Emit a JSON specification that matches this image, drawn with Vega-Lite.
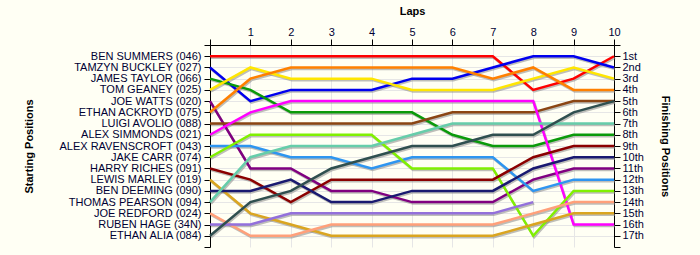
{
  "$schema": "https://vega.github.io/schema/vega-lite/v6.json",
  "width": 404,
  "height": 202,
  "autosize": {"type": "none"},
  "padding": {"left": 210, "top": 45, "right": 86, "bottom": 8},
  "background": "#fffff4",
  "config": {
    "view": {"stroke": null},
    "axis": {
      "labelFont": "Liberation Sans",
      "titleFont": "Liberation Sans",
      "labelFontSize": 11,
      "titleFontSize": 11,
      "titleFontWeight": "bold",
      "labelColor": "#000033",
      "titleColor": "#000000",
      "domainColor": "#000000",
      "tickColor": "#000000",
      "tickSize": 6,
      "gridColor": "#e6e6e6",
      "gridWidth": 1
    }
  },
  "data": {"values": [
    {"driver":"BEN SUMMERS (046)","lap":0,"pos":1},{"driver":"BEN SUMMERS (046)","lap":1,"pos":1},{"driver":"BEN SUMMERS (046)","lap":2,"pos":1},{"driver":"BEN SUMMERS (046)","lap":3,"pos":1},{"driver":"BEN SUMMERS (046)","lap":4,"pos":1},{"driver":"BEN SUMMERS (046)","lap":5,"pos":1},{"driver":"BEN SUMMERS (046)","lap":6,"pos":1},{"driver":"BEN SUMMERS (046)","lap":7,"pos":1},{"driver":"BEN SUMMERS (046)","lap":8,"pos":4},{"driver":"BEN SUMMERS (046)","lap":9,"pos":3},{"driver":"BEN SUMMERS (046)","lap":10,"pos":1},
    {"driver":"TAMZYN BUCKLEY (027)","lap":0,"pos":2},{"driver":"TAMZYN BUCKLEY (027)","lap":1,"pos":5},{"driver":"TAMZYN BUCKLEY (027)","lap":2,"pos":4},{"driver":"TAMZYN BUCKLEY (027)","lap":3,"pos":4},{"driver":"TAMZYN BUCKLEY (027)","lap":4,"pos":4},{"driver":"TAMZYN BUCKLEY (027)","lap":5,"pos":3},{"driver":"TAMZYN BUCKLEY (027)","lap":6,"pos":3},{"driver":"TAMZYN BUCKLEY (027)","lap":7,"pos":2},{"driver":"TAMZYN BUCKLEY (027)","lap":8,"pos":1},{"driver":"TAMZYN BUCKLEY (027)","lap":9,"pos":1},{"driver":"TAMZYN BUCKLEY (027)","lap":10,"pos":2},
    {"driver":"JAMES TAYLOR (066)","lap":0,"pos":3},{"driver":"JAMES TAYLOR (066)","lap":1,"pos":4},{"driver":"JAMES TAYLOR (066)","lap":2,"pos":6},{"driver":"JAMES TAYLOR (066)","lap":3,"pos":6},{"driver":"JAMES TAYLOR (066)","lap":4,"pos":6},{"driver":"JAMES TAYLOR (066)","lap":5,"pos":6},{"driver":"JAMES TAYLOR (066)","lap":6,"pos":8},{"driver":"JAMES TAYLOR (066)","lap":7,"pos":9},{"driver":"JAMES TAYLOR (066)","lap":8,"pos":9},{"driver":"JAMES TAYLOR (066)","lap":9,"pos":8},{"driver":"JAMES TAYLOR (066)","lap":10,"pos":8},
    {"driver":"TOM GEANEY (025)","lap":0,"pos":4},{"driver":"TOM GEANEY (025)","lap":1,"pos":2},{"driver":"TOM GEANEY (025)","lap":2,"pos":3},{"driver":"TOM GEANEY (025)","lap":3,"pos":3},{"driver":"TOM GEANEY (025)","lap":4,"pos":3},{"driver":"TOM GEANEY (025)","lap":5,"pos":4},{"driver":"TOM GEANEY (025)","lap":6,"pos":4},{"driver":"TOM GEANEY (025)","lap":7,"pos":4},{"driver":"TOM GEANEY (025)","lap":8,"pos":3},{"driver":"TOM GEANEY (025)","lap":9,"pos":2},{"driver":"TOM GEANEY (025)","lap":10,"pos":3},
    {"driver":"JOE WATTS (020)","lap":0,"pos":5},{"driver":"JOE WATTS (020)","lap":1,"pos":11},{"driver":"JOE WATTS (020)","lap":2,"pos":11},{"driver":"JOE WATTS (020)","lap":3,"pos":13},{"driver":"JOE WATTS (020)","lap":4,"pos":13},{"driver":"JOE WATTS (020)","lap":5,"pos":14},{"driver":"JOE WATTS (020)","lap":6,"pos":14},{"driver":"JOE WATTS (020)","lap":7,"pos":14},{"driver":"JOE WATTS (020)","lap":8,"pos":12},{"driver":"JOE WATTS (020)","lap":9,"pos":11},{"driver":"JOE WATTS (020)","lap":10,"pos":11},
    {"driver":"ETHAN ACKROYD (075)","lap":0,"pos":6},{"driver":"ETHAN ACKROYD (075)","lap":1,"pos":3},{"driver":"ETHAN ACKROYD (075)","lap":2,"pos":2},{"driver":"ETHAN ACKROYD (075)","lap":3,"pos":2},{"driver":"ETHAN ACKROYD (075)","lap":4,"pos":2},{"driver":"ETHAN ACKROYD (075)","lap":5,"pos":2},{"driver":"ETHAN ACKROYD (075)","lap":6,"pos":2},{"driver":"ETHAN ACKROYD (075)","lap":7,"pos":3},{"driver":"ETHAN ACKROYD (075)","lap":8,"pos":2},{"driver":"ETHAN ACKROYD (075)","lap":9,"pos":4},{"driver":"ETHAN ACKROYD (075)","lap":10,"pos":4},
    {"driver":"LUIGI AVOLIO (088)","lap":0,"pos":7},{"driver":"LUIGI AVOLIO (088)","lap":1,"pos":7},{"driver":"LUIGI AVOLIO (088)","lap":2,"pos":7},{"driver":"LUIGI AVOLIO (088)","lap":3,"pos":7},{"driver":"LUIGI AVOLIO (088)","lap":4,"pos":7},{"driver":"LUIGI AVOLIO (088)","lap":5,"pos":7},{"driver":"LUIGI AVOLIO (088)","lap":6,"pos":6},{"driver":"LUIGI AVOLIO (088)","lap":7,"pos":6},{"driver":"LUIGI AVOLIO (088)","lap":8,"pos":6},{"driver":"LUIGI AVOLIO (088)","lap":9,"pos":5},{"driver":"LUIGI AVOLIO (088)","lap":10,"pos":5},
    {"driver":"ALEX SIMMONDS (021)","lap":0,"pos":8},{"driver":"ALEX SIMMONDS (021)","lap":1,"pos":6},{"driver":"ALEX SIMMONDS (021)","lap":2,"pos":5},{"driver":"ALEX SIMMONDS (021)","lap":3,"pos":5},{"driver":"ALEX SIMMONDS (021)","lap":4,"pos":5},{"driver":"ALEX SIMMONDS (021)","lap":5,"pos":5},{"driver":"ALEX SIMMONDS (021)","lap":6,"pos":5},{"driver":"ALEX SIMMONDS (021)","lap":7,"pos":5},{"driver":"ALEX SIMMONDS (021)","lap":8,"pos":5},{"driver":"ALEX SIMMONDS (021)","lap":9,"pos":16},{"driver":"ALEX SIMMONDS (021)","lap":10,"pos":16},
    {"driver":"ALEX RAVENSCROFT (043)","lap":0,"pos":9},{"driver":"ALEX RAVENSCROFT (043)","lap":1,"pos":9},{"driver":"ALEX RAVENSCROFT (043)","lap":2,"pos":10},{"driver":"ALEX RAVENSCROFT (043)","lap":3,"pos":10},{"driver":"ALEX RAVENSCROFT (043)","lap":4,"pos":11},{"driver":"ALEX RAVENSCROFT (043)","lap":5,"pos":10},{"driver":"ALEX RAVENSCROFT (043)","lap":6,"pos":10},{"driver":"ALEX RAVENSCROFT (043)","lap":7,"pos":10},{"driver":"ALEX RAVENSCROFT (043)","lap":8,"pos":13},{"driver":"ALEX RAVENSCROFT (043)","lap":9,"pos":12},{"driver":"ALEX RAVENSCROFT (043)","lap":10,"pos":12},
    {"driver":"JAKE CARR (074)","lap":0,"pos":10},{"driver":"JAKE CARR (074)","lap":1,"pos":8},{"driver":"JAKE CARR (074)","lap":2,"pos":8},{"driver":"JAKE CARR (074)","lap":3,"pos":8},{"driver":"JAKE CARR (074)","lap":4,"pos":8},{"driver":"JAKE CARR (074)","lap":5,"pos":11},{"driver":"JAKE CARR (074)","lap":6,"pos":11},{"driver":"JAKE CARR (074)","lap":7,"pos":11},{"driver":"JAKE CARR (074)","lap":8,"pos":17},{"driver":"JAKE CARR (074)","lap":9,"pos":13},{"driver":"JAKE CARR (074)","lap":10,"pos":13},
    {"driver":"HARRY RICHES (091)","lap":0,"pos":11},{"driver":"HARRY RICHES (091)","lap":1,"pos":12},{"driver":"HARRY RICHES (091)","lap":2,"pos":14},{"driver":"HARRY RICHES (091)","lap":3,"pos":12},{"driver":"HARRY RICHES (091)","lap":4,"pos":12},{"driver":"HARRY RICHES (091)","lap":5,"pos":12},{"driver":"HARRY RICHES (091)","lap":6,"pos":12},{"driver":"HARRY RICHES (091)","lap":7,"pos":12},{"driver":"HARRY RICHES (091)","lap":8,"pos":10},{"driver":"HARRY RICHES (091)","lap":9,"pos":9},{"driver":"HARRY RICHES (091)","lap":10,"pos":9},
    {"driver":"LEWIS MARLEY (019)","lap":0,"pos":12},{"driver":"LEWIS MARLEY (019)","lap":1,"pos":15},{"driver":"LEWIS MARLEY (019)","lap":2,"pos":16},{"driver":"LEWIS MARLEY (019)","lap":3,"pos":17},{"driver":"LEWIS MARLEY (019)","lap":4,"pos":17},{"driver":"LEWIS MARLEY (019)","lap":5,"pos":17},{"driver":"LEWIS MARLEY (019)","lap":6,"pos":17},{"driver":"LEWIS MARLEY (019)","lap":7,"pos":17},{"driver":"LEWIS MARLEY (019)","lap":8,"pos":16},{"driver":"LEWIS MARLEY (019)","lap":9,"pos":15},{"driver":"LEWIS MARLEY (019)","lap":10,"pos":15},
    {"driver":"BEN DEEMING (090)","lap":0,"pos":13},{"driver":"BEN DEEMING (090)","lap":1,"pos":13},{"driver":"BEN DEEMING (090)","lap":2,"pos":12},{"driver":"BEN DEEMING (090)","lap":3,"pos":14},{"driver":"BEN DEEMING (090)","lap":4,"pos":14},{"driver":"BEN DEEMING (090)","lap":5,"pos":13},{"driver":"BEN DEEMING (090)","lap":6,"pos":13},{"driver":"BEN DEEMING (090)","lap":7,"pos":13},{"driver":"BEN DEEMING (090)","lap":8,"pos":11},{"driver":"BEN DEEMING (090)","lap":9,"pos":10},{"driver":"BEN DEEMING (090)","lap":10,"pos":10},
    {"driver":"THOMAS PEARSON (094)","lap":0,"pos":14},{"driver":"THOMAS PEARSON (094)","lap":1,"pos":10},{"driver":"THOMAS PEARSON (094)","lap":2,"pos":9},{"driver":"THOMAS PEARSON (094)","lap":3,"pos":9},{"driver":"THOMAS PEARSON (094)","lap":4,"pos":9},{"driver":"THOMAS PEARSON (094)","lap":5,"pos":8},{"driver":"THOMAS PEARSON (094)","lap":6,"pos":7},{"driver":"THOMAS PEARSON (094)","lap":7,"pos":7},{"driver":"THOMAS PEARSON (094)","lap":8,"pos":7},{"driver":"THOMAS PEARSON (094)","lap":9,"pos":7},{"driver":"THOMAS PEARSON (094)","lap":10,"pos":7},
    {"driver":"JOE REDFORD (024)","lap":0,"pos":15},{"driver":"JOE REDFORD (024)","lap":1,"pos":17},{"driver":"JOE REDFORD (024)","lap":2,"pos":17},{"driver":"JOE REDFORD (024)","lap":3,"pos":16},{"driver":"JOE REDFORD (024)","lap":4,"pos":16},{"driver":"JOE REDFORD (024)","lap":5,"pos":16},{"driver":"JOE REDFORD (024)","lap":6,"pos":16},{"driver":"JOE REDFORD (024)","lap":7,"pos":16},{"driver":"JOE REDFORD (024)","lap":8,"pos":15},{"driver":"JOE REDFORD (024)","lap":9,"pos":14},{"driver":"JOE REDFORD (024)","lap":10,"pos":14},
    {"driver":"RUBEN HAGE (34N)","lap":0,"pos":16},{"driver":"RUBEN HAGE (34N)","lap":1,"pos":16},{"driver":"RUBEN HAGE (34N)","lap":2,"pos":15},{"driver":"RUBEN HAGE (34N)","lap":3,"pos":15},{"driver":"RUBEN HAGE (34N)","lap":4,"pos":15},{"driver":"RUBEN HAGE (34N)","lap":5,"pos":15},{"driver":"RUBEN HAGE (34N)","lap":6,"pos":15},{"driver":"RUBEN HAGE (34N)","lap":7,"pos":15},{"driver":"RUBEN HAGE (34N)","lap":8,"pos":14},
    {"driver":"ETHAN ALIA (084)","lap":0,"pos":17},{"driver":"ETHAN ALIA (084)","lap":1,"pos":14},{"driver":"ETHAN ALIA (084)","lap":2,"pos":13},{"driver":"ETHAN ALIA (084)","lap":3,"pos":11},{"driver":"ETHAN ALIA (084)","lap":4,"pos":10},{"driver":"ETHAN ALIA (084)","lap":5,"pos":9},{"driver":"ETHAN ALIA (084)","lap":6,"pos":9},{"driver":"ETHAN ALIA (084)","lap":7,"pos":8},{"driver":"ETHAN ALIA (084)","lap":8,"pos":8},{"driver":"ETHAN ALIA (084)","lap":9,"pos":6},{"driver":"ETHAN ALIA (084)","lap":10,"pos":5}
  ]},
  "resolve": {"scale": {"y": "shared"}, "axis": {"y": "independent"}},
  "layer": [
    {
      "mark": {"type": "line", "strokeWidth": 2.5, "xOffset": 1, "yOffset": 1.5, "color": "#888888", "opacity": 0.55},
      "encoding": {
        "x": {"field": "lap", "type": "quantitative", "scale": {"domain": [0, 10]},
          "axis": {"orient": "top", "title": "Laps", "titlePadding": 10, "values": [0,1,2,3,4,5,6,7,8,9,10], "labelExpr": "datum.value == 0 ? '' : datum.label", "grid": true, "labelPadding": 2, "labelFlush": false}},
        "y": {"field": "pos", "type": "quantitative", "scale": {"domain": [0, 18], "nice": false, "zero": false, "reverse": true},
          "axis": {"orient": "left", "title": "Starting Positions", "titlePadding": 24,
            "values": [0,1,2,3,4,5,6,7,8,9,10,11,12,13,14,15,16,17,18],
            "labelExpr": "['', 'BEN SUMMERS (046)', 'TAMZYN BUCKLEY (027)', 'JAMES TAYLOR (066)', 'TOM GEANEY (025)', 'JOE WATTS (020)', 'ETHAN ACKROYD (075)', 'LUIGI AVOLIO (088)', 'ALEX SIMMONDS (021)', 'ALEX RAVENSCROFT (043)', 'JAKE CARR (074)', 'HARRY RICHES (091)', 'LEWIS MARLEY (019)', 'BEN DEEMING (090)', 'THOMAS PEARSON (094)', 'JOE REDFORD (024)', 'RUBEN HAGE (34N)', 'ETHAN ALIA (084)', ''][datum.value]",
            "grid": true, "gridOpacity": {"condition": {"test": "datum.value == 18", "value": 0}, "value": 1},
            "labelPadding": 3}},
        "detail": {"field": "driver"},
        "order": {"field": "lap"}
      }
    },
    {
      "mark": {"type": "line", "strokeWidth": 2.5},
      "encoding": {
        "x": {"field": "lap", "type": "quantitative"},
        "y": {"field": "pos", "type": "quantitative",
          "axis": {"orient": "right", "title": "Finishing Positions", "titlePadding": 16,
            "values": [0,1,2,3,4,5,6,7,8,9,10,11,12,13,14,15,16,17,18],
            "labelExpr": "datum.value == 0 || datum.value == 18 ? '' : datum.value == 1 ? '1st' : datum.value == 2 ? '2nd' : datum.value == 3 ? '3rd' : datum.value + 'th'",
            "grid": false, "labelPadding": 2}},
        "color": {"field": "driver", "type": "nominal", "legend": null,
          "scale": {
            "domain": ["BEN SUMMERS (046)", "TAMZYN BUCKLEY (027)", "JAMES TAYLOR (066)", "TOM GEANEY (025)", "JOE WATTS (020)", "ETHAN ACKROYD (075)", "LUIGI AVOLIO (088)", "ALEX SIMMONDS (021)", "ALEX RAVENSCROFT (043)", "JAKE CARR (074)", "HARRY RICHES (091)", "LEWIS MARLEY (019)", "BEN DEEMING (090)", "THOMAS PEARSON (094)", "JOE REDFORD (024)", "RUBEN HAGE (34N)", "ETHAN ALIA (084)"],
            "range": ["#ff0000", "#0000ee", "#0a9a0a", "#ffe600", "#800080", "#ff8000", "#8b4513", "#ff00ff", "#2e95f0", "#80f000", "#8b0000", "#daa520", "#191970", "#66cdaa", "#ffa07a", "#9370db", "#2f4f4f"]
          }},
        "order": {"field": "lap"}
      }
    }
  ]
}
